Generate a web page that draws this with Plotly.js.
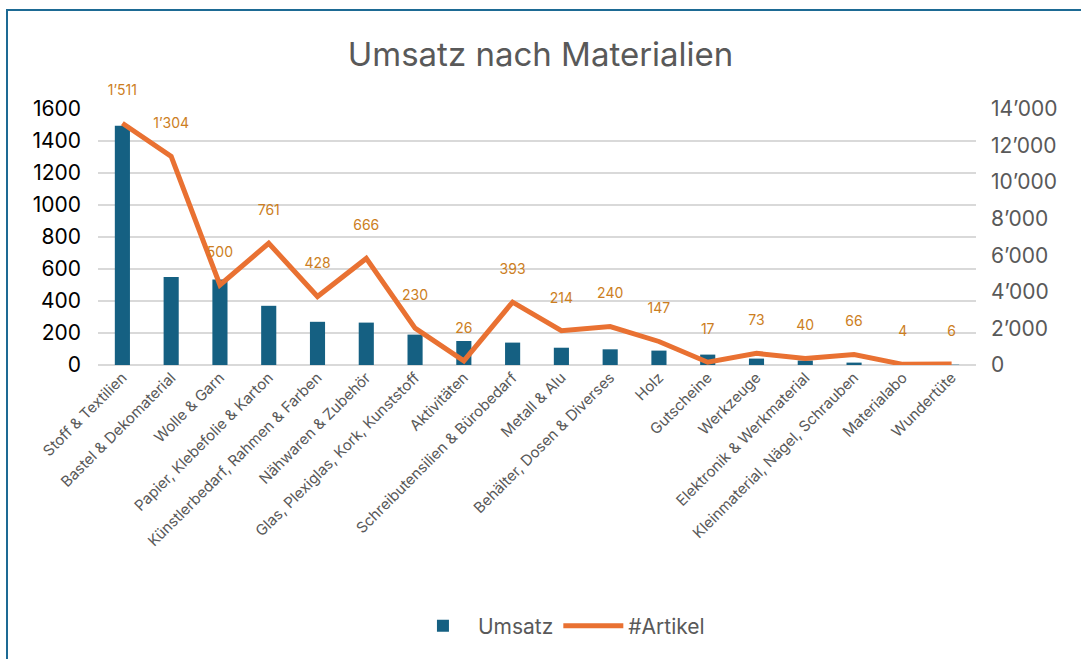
<!DOCTYPE html>
<html>
<head>
<meta charset="utf-8">
<script src="https://cdn.plot.ly/plotly-3.0.1.min.js"></script>
<style>
  html, body { margin: 0; padding: 0; background: #fff; }
  #chart { width: 1081px; height: 659px; }
  #frame { position: absolute; left: 6px; top: 9px; width: 1200px; height: 800px;
           border-left: 2px solid #1D6A94; border-top: 2px solid #1D6A94; pointer-events: none; }
</style>
</head>
<body>
<div id="chart"></div>
<div id="frame"></div>
<script>
const categories = [
  "Stoff & Textilien", "Bastel & Dekomaterial", "Wolle & Garn", "Papier, Klebefolie & Karton",
  "Künstlerbedarf, Rahmen & Farben", "Nähwaren & Zubehör", "Glas, Plexiglas, Kork, Kunststoff",
  "Aktivitäten", "Schreibutensilien & Bürobedarf", "Metall & Alu", "Behälter, Dosen & Diverses",
  "Holz", "Gutscheine", "Werkzeuge", "Elektronik & Werkmaterial",
  "Kleinmaterial, Nägel, Schrauben", "Materialabo", "Wundertüte"
];
const umsatz = [1495, 550, 535, 370, 270, 265, 190, 150, 140, 108, 98, 90, 65, 40, 28, 15, 2, 2];
const artikel = [1511, 1304, 500, 761, 428, 666, 230, 26, 393, 214, 240, 147, 17, 73, 40, 66, 4, 6];
const rightTicks = [0, 2000, 4000, 6000, 8000, 10000, 12000, 14000];

const fmt = v => String(v).replace(/\B(?=(\d{3})+(?!\d))/g, "’");
const labels = artikel.map(fmt);

const FONT = "Inter, 'Noto Sans', sans-serif";

const traces = [
  {
    type: "bar", name: "Umsatz", x: categories, y: umsatz,
    marker: { color: "#156082" }, hoverinfo: "x+y"
  },
  {
    type: "scatter", mode: "lines", name: "#Artikel", x: categories, y: artikel,
    line: { color: "#E97132", width: 5 }
  },
  {
    type: "scatter", mode: "markers+text", x: categories, y: artikel, text: labels,
    textposition: "top center", showlegend: false, cliponaxis: false,
    marker: { size: 38, opacity: 0 },
    textfont: { family: FONT, size: 14, color: "#CC7E22" }, hoverinfo: "skip"
  },
  {
    type: "scatter", mode: "markers", x: [categories[0]], y: [0], yaxis: "y2",
    marker: { opacity: 0 }, showlegend: false, hoverinfo: "skip"
  }
];

const layout = {
  width: 1081, height: 659,
  paper_bgcolor: "#fff", plot_bgcolor: "#fff",
  separators: ".’",
  margin: { l: 98, r: 105, t: 109, b: 294 },
  font: { family: FONT, color: "#595959" },
  title: {
    text: "Umsatz nach Materialien",
    font: { family: FONT, size: 33, color: "#595959" },
    x: 0.5, xanchor: "center", y: 0.918, yanchor: "middle"
  },
  bargap: 0.69,
  xaxis: {
    type: "category", tickangle: -45, automargin: false,
    range: [-0.5, categories.length - 0.5], autorange: false,
    tickfont: { family: FONT, size: 15, color: "#595959" },
    showgrid: false, showline: false, ticks: ""
  },
  yaxis: {
    range: [0, 1600], dtick: 200, tick0: 0, automargin: false,
    tickfont: { family: FONT, size: 21, color: "#000" },
    gridcolor: "#D9D9D9", gridwidth: 1.5, zeroline: true, zerolinecolor: "#D9D9D9", zerolinewidth: 1.5,
    showline: false, ticks: "", ticklabelstandoff: 16, separatethousands: false
  },
  yaxis2: {
    overlaying: "y", side: "right", range: [0, 14000], automargin: false,
    tickvals: rightTicks, tickformat: ",d",
    tickfont: { family: FONT, size: 21, color: "#595959" },
    showgrid: false, zeroline: false, showline: false, ticks: "", ticklabelstandoff: 14,
    separatethousands: true
  },
  legend: {
    orientation: "h", x: 0.525, xanchor: "center", y: -1.02, yanchor: "middle",
    font: { family: FONT, size: 21, color: "#595959" }, itemwidth: 60
  }
};

Plotly.newPlot("chart", traces, layout, { displayModeBar: false, staticPlot: true });
</script>
</body>
</html>
